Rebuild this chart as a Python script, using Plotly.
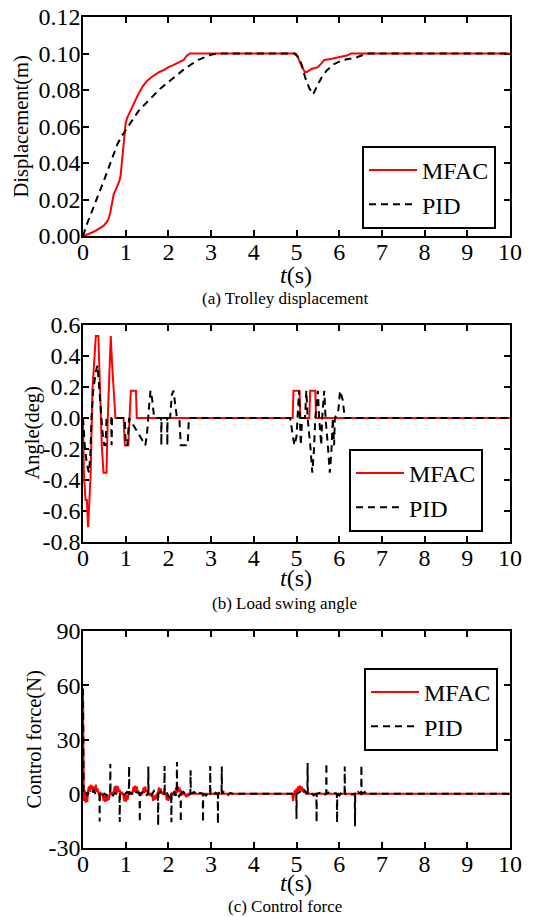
import plotly.graph_objects as go

# ---------------- data ----------------
# (a) Trolley displacement
disp_mfac_t = [0, 0.1, 0.2, 0.3, 0.4, 0.48, 0.55, 0.6, 0.64, 0.68, 0.72, 0.76, 0.8, 0.85, 0.88, 0.91, 0.94,
               0.97, 1.0, 1.04, 1.1, 1.2, 1.3, 1.4, 1.5, 1.6, 1.7, 1.8, 1.9, 2.0, 2.1, 2.2, 2.3, 2.36, 2.42,
               2.5, 3.0, 4.0, 4.98, 5.05, 5.12, 5.2, 5.25, 5.35, 5.5, 5.6, 5.65, 5.8, 6.0, 6.2, 6.27, 10]
disp_mfac_v = [0, 0.0008, 0.0018, 0.003, 0.0042, 0.0055, 0.0075, 0.0095, 0.013, 0.019, 0.023, 0.025, 0.027,
               0.03, 0.033, 0.04, 0.048, 0.055, 0.062, 0.065, 0.068, 0.073, 0.078, 0.082, 0.085, 0.087, 0.0885,
               0.09, 0.091, 0.0925, 0.0935, 0.0945, 0.0955, 0.0965, 0.0985, 0.1, 0.1, 0.1, 0.1, 0.097, 0.093,
               0.0897, 0.09, 0.0915, 0.0925, 0.095, 0.0965, 0.097, 0.098, 0.099, 0.1, 0.1]
disp_pid_t = [0, 0.05, 0.1, 0.2, 0.3, 0.4, 0.5, 0.6, 0.7, 0.8, 0.9, 1.0, 1.1, 1.2, 1.3, 1.4, 1.5, 1.6, 1.7,
              1.8, 1.9, 2.0, 2.1, 2.2, 2.3, 2.4, 2.5, 2.6, 2.7, 2.8, 2.9, 3.0, 3.1, 3.2, 4.95, 5.05, 5.12,
              5.2, 5.3, 5.39, 5.5, 5.59, 5.7, 5.86, 6.0, 6.17, 6.4, 6.55, 6.64, 10]
disp_pid_v = [0, 0.004, 0.007, 0.013, 0.0195, 0.025, 0.031, 0.037, 0.044, 0.05, 0.0545, 0.058, 0.062,
              0.0655, 0.0685, 0.071, 0.0735, 0.076, 0.0785, 0.0805, 0.0825, 0.0845, 0.0865, 0.0885, 0.09,
              0.092, 0.0935, 0.095, 0.0965, 0.0975, 0.0985, 0.0993, 0.0998, 0.1, 0.1, 0.098, 0.094, 0.087,
              0.081, 0.0776, 0.083, 0.087, 0.0905, 0.094, 0.0955, 0.0968, 0.0978, 0.099, 0.1, 0.1]

# (b) Load swing angle
ang_mfac_t = [0, 0.02, 0.06, 0.09, 0.12, 0.15, 0.18, 0.22, 0.26, 0.3, 0.36, 0.4, 0.44, 0.48, 0.55, 0.58,
              0.62, 0.65, 0.68, 0.72, 0.76, 0.95, 0.98, 1.06, 1.09, 1.12, 1.24, 1.26, 4.91, 4.93, 5.07,
              5.09, 5.3, 5.32, 5.44, 5.46, 10]
ang_mfac_v = [0, -0.353, -0.529, -0.529, -0.705, -0.529, -0.353, 0.176, 0.353, 0.529, 0.529, 0.176,
              -0.176, -0.353, -0.353, 0.0, 0.353, 0.529, 0.353, 0.176, 0, 0, -0.176, -0.176, 0, 0.176,
              0.176, 0, 0, 0.176, 0.176, 0, 0, 0.176, 0.176, 0, 0]
ang_pid_t = [0, 0.04, 0.09, 0.14, 0.17, 0.2, 0.24, 0.3, 0.34, 0.38, 0.42, 0.46, 0.5, 0.53, 0.55, 0.66,
             0.67, 0.68, 0.98, 1.0, 1.04, 1.08, 1.46, 1.5, 1.54, 1.58, 1.62, 1.66, 1.7, 1.83, 1.835, 1.84,
             1.97, 1.975, 1.98, 2.04, 2.08, 2.12, 2.16, 2.2, 2.26, 2.29, 2.45, 2.48, 4.85, 4.9, 4.95,
             5.0, 5.03, 5.06, 5.08, 5.1, 5.13, 5.2, 5.23, 5.26, 5.33, 5.37, 5.41, 5.44, 5.5, 5.53, 5.58,
             5.6, 5.65, 5.68, 5.74, 5.78, 5.82, 5.85, 5.88, 5.9, 5.98, 6.02, 6.08, 6.13, 10]
ang_pid_v = [0, -0.176, -0.3, -0.353, -0.25, 0.0, 0.176, 0.3, 0.34, 0.2, 0.05, -0.1, -0.176, -0.176,
             0.0, 0.0, -0.176, 0.0, 0, -0.176, -0.176, 0, -0.176, -0.1, 0.05, 0.176, 0.12, 0.02, 0, 0,
             -0.176, 0, 0, -0.176, 0, 0, 0.15, 0.176, 0.1, 0, -0.02, -0.176, -0.176, 0, 0, -0.1,
             -0.176, -0.12, 0, 0.176, 0.0, -0.176, 0, 0, 0.176, 0, -0.2, -0.353, -0.2, 0, 0.176, 0,
             -0.176, 0, 0.176, 0, -0.2, -0.353, -0.2, 0, -0.176, 0, 0.05, 0.176, 0.12, 0, 0]

# (c) Control force
force_mfac_t = [0, 0.01] + [round(0.02 * k, 2) for k in range(1, 126)] + \
               [4.9, 4.92, 4.94, 4.96, 4.98, 5.0, 5.02, 5.04, 5.06, 5.08, 5.1, 5.12, 5.14, 5.16, 5.18, 5.2, 5.22, 10]
force_mfac_v = [58, 3,
                -4, 2, -5, 1, -4.5, 2,
                4, 1, 5, 2, 4.5, 0.5, 4, 1.5, 5, 1, 3,
                0.5, -0.5, 1, -1, 0.5, -0.5,
                -4, -1, -4.5, -0.5, -4, -1, -3.5, 0,
                1, -0.5, 0.5, 0, 1,
                4, 1, 4.5, 0.5, 4, 1, 2,
                0, -0.5, 0.5, 0,
                -4, -1, -4.5, -0.5, -3.5, 0,
                0.5, 0, 1, -0.5, 0.5,
                4, 1, 4.5, 0.5, 4, 1, 1.5,
                -0.5, 0.5, -1, 0, 0.5,
                3.5, 0.5, 4, 1, 2,
                -0.5, 0, -1, 0.5, -0.5, 0,
                -4, -1, -3.5, -0.5, -3, 0,
                1, 3.5, 0.5, 3, 0,
                0.5, -0.5, 1, 0, 0.5,
                -3.5, -0.5, -4, -1, -3, 0,
                0.5, 0, -0.5, 0.5, 0,
                3.5, 0.5, 4, 1, 3.5, 0.5, 2,
                -0.5, 0, 0.5, -0.5, 0,
                -2, 0, -1.5, 0,
                0,
                0, -4, -1, 2, -0.5, 3, 1, 4, 1.5, 4.5, 2, 4, 1, 3, 0.5, 1, 0, 0]
force_pid_t = [0, 0.012, 0.05, 0.1, 0.15, 0.2, 0.25, 0.3, 0.35, 0.385, 0.39, 0.395, 0.45, 0.5, 0.55, 0.6,
               0.635, 0.64, 0.645, 0.7, 0.75, 0.8, 0.855, 0.86, 0.865, 0.92, 0.97, 1.03, 1.075, 1.08, 1.085,
               1.13, 1.2, 1.26, 1.325, 1.33, 1.335, 1.4, 1.46, 1.525, 1.53, 1.535, 1.6, 1.66, 1.71, 1.755,
               1.76, 1.765, 1.82, 1.87, 1.905, 1.91, 1.915, 1.96, 2.01, 2.065, 2.07, 2.075, 2.12, 2.16,
               2.195, 2.2, 2.205, 2.25, 2.285, 2.29, 2.295, 2.35, 2.42, 2.515, 2.52, 2.525, 2.6, 2.68, 2.74,
               2.805, 2.81, 2.815, 2.88, 2.93, 2.975, 2.98, 2.985, 3.05, 3.1, 3.155, 3.16, 3.165, 3.2, 3.245,
               3.25, 3.255, 3.3, 3.38, 3.45, 3.5, 4.9, 4.95, 4.995, 5.0, 5.005, 5.08, 5.15, 5.2, 5.255,
               5.26, 5.265, 5.32, 5.4, 5.465, 5.47, 5.475, 5.55, 5.62, 5.695, 5.7, 5.705, 5.78, 5.86, 5.945,
               5.95, 5.955, 6.0, 6.07, 6.125, 6.13, 6.135, 6.2, 6.3, 6.365, 6.37, 6.375, 6.44, 6.515, 6.52,
               6.525, 6.6, 6.65, 6.7, 10]
force_pid_v = [58, 1, 2, -1, 1.5, 0.5, 2, -0.5, 0.5, 0, -15.3, 0, -1.5, 0, -1, 0.5,
               0, 16.5, 0, -1, 0.5, -0.5, 0, -15.6, 0, 1, -0.5, 1, 0, 15.4, 0,
               0.5, -1, 1, 0, -16, 0, 1, -1.5, 0, 15, 0, -1, 1.5, -0.5, 0,
               -17.6, 0, 1, -1, 0, 15.4, 0, 1, -2, 0, -15.8, 0, 2, -1,
               0, 17.5, 0, -1.5, 0, -15.8, 0, 1, -1, 0, 13, 0, 1, -1, 0.5,
               0, -15.8, 0, -1, 0.5, 0, 15.4, 0, -1.5, 0.5, 0, -16.7, 0, 1, 0,
               15, 0, 1, -1, 0.5, 0, 0, -1, 0, -14, 0, 1, 3, 1.5, 0,
               17, 0, 1, -1, 0, -15.8, 0, 0.5, -1, 0, 17, 0, 1, 0.5, 0,
               -16, 0, -1, 1, 0, 15, 0, -1, -0.5, 0, -18, 0, 1, 0, 16,
               0, 1, -0.5, 0, 0]

x_ticks = [0, 1, 2, 3, 4, 5, 6, 7, 8, 9, 10]
x_tick_text = ["0", "1", "2", "3", "4", "5", "6", "7", "8", "9", "10"]
ya_ticks = [0, 0.02, 0.04, 0.06, 0.08, 0.10, 0.12]
ya_text = ["0.00", "0.02", "0.04", "0.06", "0.08", "0.10", "0.12"]
yb_ticks = [-0.8, -0.6, -0.4, -0.2, 0, 0.2, 0.4, 0.6]
yb_text = ["-0.8", "-0.6", "-0.4", "-0.2", "0.0", "0.2", "0.4", "0.6"]
yc_ticks = [-30, 0, 30, 60, 90]
yc_text = ["-30", "0", "30", "60", "90"]

y_titles = ["Displacement(m)", "Angle(deg)", "Control force(N)"]
captions = ["(a) Trolley displacement", "(b) Load swing angle", "(c) Control force"]
series_names = ["MFAC", "PID"]

# ---------------- figure ----------------
W, H = 537, 917
FONT = "Liberation Serif, Times New Roman, serif"
RED = "#ff0000"
DASH = "7px,5px"

# pixel geometry of the three panels (top, bottom)
panels = [(17, 236), (325, 542), (631, 848)]
x_left, x_right = 83, 510

def py(v):
    return 1 - v / H

fig = go.Figure()
data = [
    (disp_mfac_t, disp_mfac_v, disp_pid_t, disp_pid_v),
    (ang_mfac_t, ang_mfac_v, ang_pid_t, ang_pid_v),
    (force_mfac_t, force_mfac_v, force_pid_t, force_pid_v),
]
legend_names = ["legend", "legend2", "legend3"]
for i, (mt, mv, pt, pv) in enumerate(data):
    sfx = "" if i == 0 else str(i + 1)
    fig.add_trace(go.Scatter(x=mt, y=mv, mode="lines", name=series_names[0],
                             line=dict(color=RED, width=2), xaxis="x" + sfx, yaxis="y" + sfx,
                             legend=legend_names[i]))
    fig.add_trace(go.Scatter(x=pt, y=pv, mode="lines", name=series_names[1],
                             line=dict(color="black", width=2, dash=DASH), xaxis="x" + sfx, yaxis="y" + sfx,
                             legend=legend_names[i]))

axis_common = dict(showline=True, linecolor="black", linewidth=1.5, mirror="ticks", ticks="inside",
                   ticklen=6, tickwidth=1.5, tickcolor="black", showgrid=False, zeroline=False,
                   automargin=False,
                   tickfont=dict(family=FONT, size=24, color="black"), layer="below traces")

ytick_sets = [(ya_ticks, ya_text, [0, 0.12]), (yb_ticks, yb_text, [-0.8, 0.6]), (yc_ticks, yc_text, [-30, 90])]
layout = dict(template="none", width=W, height=H, margin=dict(l=0, r=0, t=0, b=0, pad=0),
              plot_bgcolor="white", paper_bgcolor="white", showlegend=True)
for i, (top, bot) in enumerate(panels):
    sfx = "" if i == 0 else str(i + 1)
    layout["xaxis" + sfx] = dict(axis_common, domain=[x_left / W, x_right / W], range=[0, 10],
                                 tickvals=x_ticks, ticktext=x_tick_text, anchor="y" + sfx,
                                 ticklabelstandoff=-7)
    tv, tt, rg = ytick_sets[i]
    layout["yaxis" + sfx] = dict(axis_common, domain=[py(bot), py(top)], range=rg,
                                 tickvals=tv, ticktext=tt, anchor="x" + sfx, ticklabelstandoff=-4)

legend_pos = [(362, 146), (349, 449), (364, 668)]
for i, (lx, ly) in enumerate(legend_pos):
    layout[legend_names[i]] = dict(x=lx / W, y=py(ly), xanchor="left", yanchor="top",
                                   bordercolor="black", borderwidth=2, bgcolor="white",
                                   font=dict(family=FONT, size=24, color="black"),
                                   tracegroupgap=0, itemwidth=48)
fig.update_layout(**layout)

ytitle_x = [21, 32, 34]
tlabel_y = [275, 578, 883]
caption_y = [298, 603, 906]
anns = []
for i, (top, bot) in enumerate(panels):
    anns.append(dict(text=y_titles[i], x=ytitle_x[i] / W, y=py((top + bot) / 2), xref="paper", yref="paper",
                     xanchor="center", yanchor="middle", textangle=-90, showarrow=False,
                     font=dict(family=FONT, size=20.5, color="black")))
    anns.append(dict(text="<i>t</i>(s)", x=(x_left + x_right) / 2 / W, y=py(tlabel_y[i]), xref="paper",
                     yref="paper", xanchor="center", yanchor="middle", showarrow=False,
                     font=dict(family=FONT, size=24, color="black")))
    anns.append(dict(text=captions[i], x=284.5 / W, y=py(caption_y[i]), xref="paper", yref="paper",
                     xanchor="center", yanchor="middle", showarrow=False,
                     font=dict(family=FONT, size=17, color="black")))
fig.update_layout(annotations=anns)

fig.write_html("out.html")
